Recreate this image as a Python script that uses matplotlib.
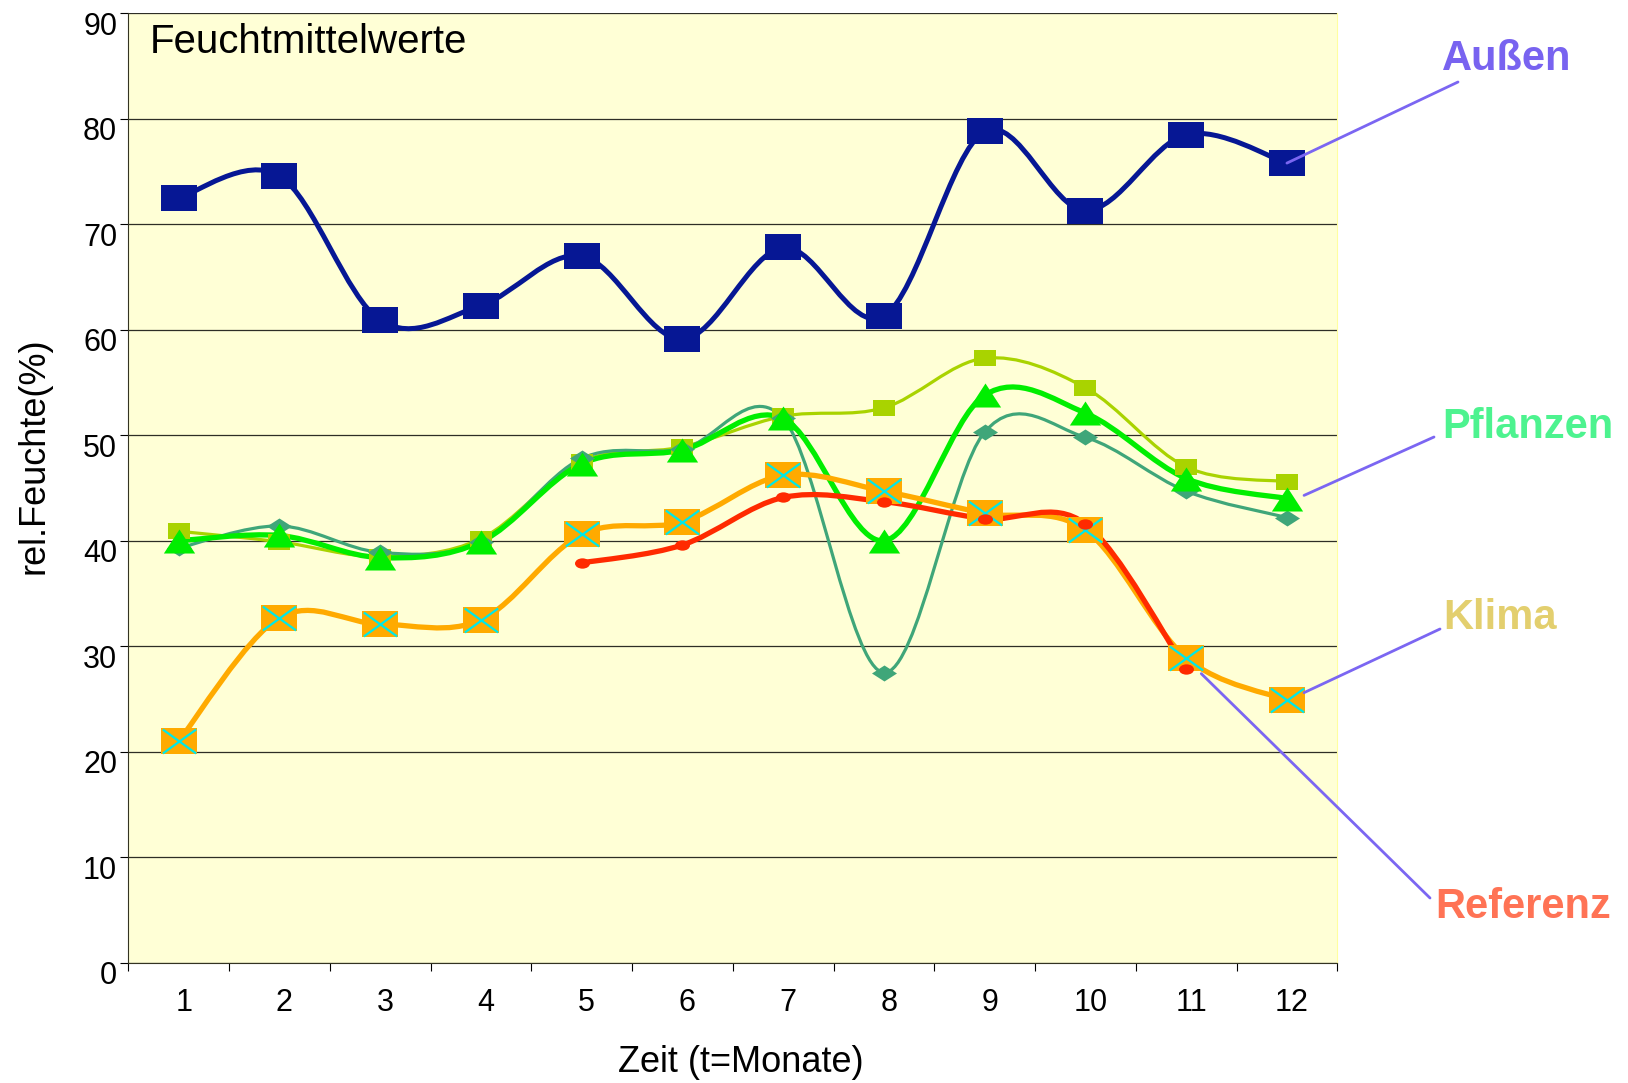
import numpy as np
import matplotlib.pyplot as plt
from matplotlib.path import Path
from matplotlib.patches import PathPatch
from matplotlib.transforms import ScaledTranslation

plt.rcParams['font.family'] = ['Liberation Sans', 'DejaVu Sans']

# data
months = [1, 2, 3, 4, 5, 6, 7, 8, 9, 10, 11, 12]
month_labels = [str(m) for m in months]
aussen = [72.5, 74.6, 60.9, 62.3, 67.0, 59.1, 67.8, 61.3, 78.8, 71.3, 78.5, 75.8]
klima_gelb = [40.9, 39.9, 38.5, 40.2, 47.5, 48.9, 51.8, 52.6, 57.3, 54.5, 47.0, 45.6]
teal = [39.3, 41.4, 38.9, 39.9, 47.8, 48.7, 51.6, 27.5, 50.3, 49.8, 44.7, 42.2]
pflanzen = [40.0, 40.5, 38.4, 39.9, 47.3, 48.6, 51.6, 40.0, 53.8, 52.1, 45.9, 44.0]
orange = [21.0, 32.7, 32.1, 32.5, 40.6, 41.8, 46.2, 44.7, 42.6, 41.0, 28.9, 24.9]
ref_months = [5, 6, 7, 8, 9, 10, 11]
referenz = [37.9, 39.6, 44.1, 43.7, 42.1, 41.6, 27.8]


def smooth(xs, ys):
    # excel-like smoothed line as cubic bezier segments
    p = np.column_stack([xs, ys]).astype(float)
    verts = [p[0]]
    codes = [Path.MOVETO]
    n = len(p)
    for i in range(n - 1):
        p0 = p[i - 1] if i > 0 else p[i]
        p1 = p[i]
        p2 = p[i + 1]
        p3 = p[i + 2] if i + 2 < n else p[i + 1]
        verts += [p1 + (p2 - p0) / 6, p2 - (p3 - p1) / 6, p2]
        codes += [Path.CURVE4] * 3
    return Path(verts, codes)


def rect(r):
    return Path([(-r, -1), (r, -1), (r, 1), (-r, 1), (-r, -1)], closed=True)


tri = Path([(-1.3, -1), (1.3, -1), (0, 1), (-1.3, -1)], closed=True)
diam = Path([(-1.56, 0), (0, -1), (1.56, 0), (0, 1), (-1.56, 0)], closed=True)
cross = Path([(-1.39, -1), (1.39, 1), (-1.39, 1), (1.39, -1)],
             [Path.MOVETO, Path.LINETO, Path.MOVETO, Path.LINETO])
ell = Path(Path.unit_circle().vertices * [1.45, 1], Path.unit_circle().codes)

fig = plt.figure(figsize=(16.28, 10.83), dpi=100)
ax = fig.add_axes([128.3 / 1628, 120.3 / 1083, 1209 / 1628, 949.4 / 1083])
ax.set_facecolor('#FFFFD6')
ax.set_xlim(0.5, 12.5)
ax.set_ylim(0, 90)

# lines first
lines = [
    (months, aussen, '#061794', 3.6),
    (months, klima_gelb, '#A9D300', 2.3),
    (months, teal, '#3FA679', 2.3),
    (months, pflanzen, '#00EE00', 3.8),
    (months, orange, '#FFAA00', 3.8),
    (ref_months, referenz, '#FF2A00', 3.8),
]
for i, (xs, ys, c, lw) in enumerate(lines):
    ax.add_patch(PathPatch(smooth(xs, ys), fill=False, edgecolor=c, lw=lw,
                           capstyle='round', joinstyle='round', zorder=2 + i * 0.1))

# then markers
ax.plot(months, aussen, ls='none', marker=rect(1.39), ms=26.6, mfc='#061794', mew=0, zorder=4)
ax.plot(months, klima_gelb, ls='none', marker=rect(1.36), ms=16.3, mfc='#A9D300', mew=0, zorder=4.1)
ax.plot(months, teal, ls='none', marker=diam, ms=18, mfc='#3FA679', mew=0, zorder=4.2)
ax.plot(months, pflanzen, ls='none', marker=tri, ms=22.5, mfc='#00EE00', mew=0, zorder=4.3)
ax.plot(months, orange, ls='none', marker=rect(1.39), ms=26.6, mfc='#FFAA00', mew=0, zorder=4.4)
ax.plot(months, orange, ls='none', marker=cross, ms=24, mfc='none', mec='#00E8E8', mew=1.6, zorder=4.5)
ax.plot(ref_months, referenz, ls='none', marker=ell, ms=10.8, mfc='#FF2A00', mew=0, zorder=4.6)

# axes styling
ax.spines['top'].set_visible(False)
ax.spines['right'].set_color('#FFFFA0')
ax.spines['left'].set_color('#333322')
ax.spines['bottom'].set_color('#333322')
ax.set_yticks(range(0, 91, 10))
ax.yaxis.grid(True, color='#2E2E26', lw=0.9)
ax.set_axisbelow(True)
ax.tick_params(axis='y', direction='out', length=6, width=0.8, pad=2, labelsize=22)
ax.set_xticks(np.arange(0.5, 13, 1))
ax.set_xticklabels([])
ax.set_xticks(months, minor=True)
ax.set_xticklabels(month_labels, minor=True)
ax.tick_params(axis='x', which='major', direction='out', length=6, width=0.8)
ax.tick_params(axis='x', which='minor', length=0, pad=18, labelsize=22)

down = ScaledTranslation(0, -0.10, fig.dpi_scale_trans)
for lbl in ax.get_yticklabels():
    lbl.set_transform(lbl.get_transform() + down)
right = ScaledTranslation(0.05, 0, fig.dpi_scale_trans)
for lbl in ax.xaxis.get_minorticklabels():
    lbl.set_transform(lbl.get_transform() + right)

ax.text(150, 1083 - 53, 'Feuchtmittelwerte', transform=None, fontsize=29,
        va='baseline', ha='left')
fig.text(741 / 1628, 1 - 1072 / 1083, 'Zeit (t=Monate)', fontsize=26,
         ha='center', va='baseline')
fig.text(34 / 1628, 1 - 456 / 1083, 'rel.Feuchte(%)', fontsize=26,
         rotation=90, ha='center', va='center')

# series names with leader lines
names = [
    ('Außen', '#7863F0', (1442, 70), (12, aussen[-1]), (1458, 82)),
    ('Pflanzen', '#4DF38F', (1442, 438), (12.17, 44.3), (1434, 437)),
    ('Klima', '#E3CF6E', (1443, 629), (12.17, 25.6), (1440, 629)),
    ('Referenz', '#FF7355', (1435, 918), (11.15, 27.4), (1430, 898)),
]
for name, c, (tx, ty), xy, (lx, ly) in names:
    fig.text(tx / 1628, 1 - ty / 1083, name, color=c, fontsize=30,
             fontweight='bold', ha='left', va='baseline')
    ax.annotate('', xy=xy, xycoords='data', xytext=(lx, 1083 - ly),
                textcoords='figure pixels', annotation_clip=False,
                arrowprops=dict(arrowstyle='-', color='#7B66F2', lw=2,
                                shrinkA=0, shrinkB=0), zorder=6)

fig.savefig('out.png', dpi=100, facecolor='white')
